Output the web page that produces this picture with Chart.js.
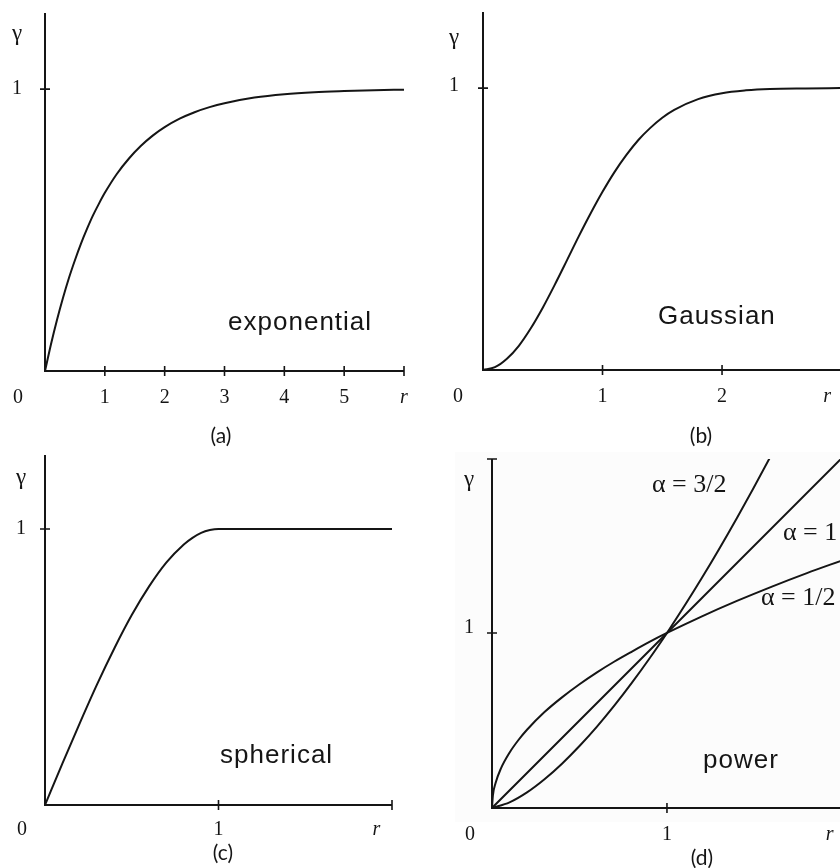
<!DOCTYPE html>
<html>
<head>
<meta charset="utf-8">
<title>Variogram models</title>
<script src="https://cdn.jsdelivr.net/npm/chart.js@4.4.0/dist/chart.umd.min.js"></script>
<style>
    html, body { margin: 0; padding: 0; background: #fff; }
    #sheet { position: relative; width: 840px; height: 868px; overflow: hidden; }
    #sheet canvas { position: absolute; }
</style>
</head>
<body>
<div id="sheet">
    <canvas id="expChart" width="420" height="450" style="left:0;top:0"></canvas>
    <canvas id="gaussChart" width="420" height="450" style="left:420px;top:0"></canvas>
    <canvas id="sphChart" width="420" height="438" style="left:0;top:430px"></canvas>
    <canvas id="powChart" width="420" height="438" style="left:420px;top:430px"></canvas>
</div>
<script>
// (a) exponential model
const expR     = [0, 0.1, 0.2, 0.3, 0.4, 0.5, 0.6, 0.7, 0.8, 0.9, 1, 1.2, 1.4, 1.6, 1.8, 2, 2.25, 2.5, 2.75, 3, 3.5, 4, 4.5, 5, 5.5, 6];
const expGamma = [0, 0.095, 0.181, 0.259, 0.33, 0.393, 0.451, 0.503, 0.551, 0.593, 0.632, 0.699, 0.753, 0.798, 0.835, 0.865, 0.895, 0.918, 0.936, 0.95, 0.97, 0.982, 0.989, 0.993, 0.996, 0.998];
const expTicks = [1, 2, 3, 4, 5, 6];
const expTickLabels = [1, 2, 3, 4, 5];

// (b) Gaussian model
const gaussR     = [0, 0.1, 0.2, 0.3, 0.4, 0.5, 0.6, 0.7, 0.8, 0.9, 1, 1.1, 1.2, 1.3, 1.4, 1.5, 1.6, 1.8, 2, 2.2, 2.4, 2.7, 3];
const gaussGamma = [0, 0.01, 0.04, 0.086, 0.148, 0.221, 0.302, 0.387, 0.473, 0.555, 0.632, 0.702, 0.763, 0.816, 0.859, 0.895, 0.923, 0.961, 0.982, 0.992, 0.997, 0.999, 1];
const gaussTicks = [1, 2];

// (c) spherical model
const sphR     = [0, 0.1, 0.2, 0.3, 0.4, 0.5, 0.6, 0.7, 0.8, 0.85, 0.9, 0.95, 1, 1.5, 2];
const sphGamma = [0, 0.15, 0.296, 0.437, 0.568, 0.688, 0.792, 0.879, 0.944, 0.968, 0.986, 0.996, 1, 1, 1];
const sphTicks = [1, 2];
const sphTickLabels = [1];

// (d) power model, three exponents
const powHalfR     = [0, 0.005, 0.02, 0.05, 0.1, 0.15, 0.2, 0.3, 0.4, 0.5, 0.6, 0.7, 0.8, 0.9, 1, 1.2, 1.4, 1.6, 1.8, 2];
const powHalfGamma = [0, 0.071, 0.141, 0.224, 0.316, 0.387, 0.447, 0.548, 0.632, 0.707, 0.775, 0.837, 0.894, 0.949, 1, 1.095, 1.183, 1.265, 1.342, 1.414];
const powOneR      = [0, 1, 2];
const powOneGamma  = [0, 1, 2];
const powThreeHalfR     = [0, 0.1, 0.2, 0.3, 0.4, 0.5, 0.6, 0.7, 0.8, 0.9, 1, 1.2, 1.4, 1.6, 1.8, 2];
const powThreeHalfGamma = [0, 0.032, 0.089, 0.164, 0.253, 0.354, 0.465, 0.586, 0.716, 0.854, 1, 1.315, 1.657, 2.024, 2.415, 2.828];
const powTicks = [1];

const ink = '#151515';
const serif = '"Liberation Serif", "Times New Roman", serif';
const sans = '"Liberation Sans", Arial, sans-serif';
const captionFont = '21px Lato, "Open Sans", sans-serif';

function drawText(ctx, text, px, py, font, align, baseline, spacing) {
    ctx.save();
    ctx.font = font;
    ctx.fillStyle = ink;
    ctx.textAlign = align || 'center';
    ctx.textBaseline = baseline || 'middle';
    if (spacing) ctx.letterSpacing = spacing;
    ctx.fillText(text, px, py);
    ctx.restore();
}

// Draws the hand-made looking axes: two lines, crossing tick marks,
// the origin "0", the "1" on the vertical axis, γ and r, plus notes.
const sketchAxes = {
    id: 'sketchAxes',
    beforeDraw(chart, args, opts) {
        if (!opts.tint) return;
        const { ctx } = chart;
        ctx.save();
        ctx.fillStyle = opts.tint.color;
        ctx.fillRect(opts.tint.x, opts.tint.y, opts.tint.w, opts.tint.h);
        ctx.restore();
    },
    beforeDatasetsDraw(chart, args, opts) {
        const { ctx, chartArea: a, scales: { x, y } } = chart;
        ctx.save();
        ctx.strokeStyle = ink;
        ctx.lineCap = 'butt';
        ctx.lineWidth = 2;
        ctx.beginPath();
        ctx.moveTo(a.left, a.top);
        ctx.lineTo(a.left, a.bottom);
        ctx.lineTo(a.right, a.bottom);
        ctx.stroke();

        ctx.lineWidth = 1.6;
        ctx.beginPath();
        (opts.xTicks || []).forEach(v => {
            const px = x.getPixelForValue(v);
            ctx.moveTo(px, a.bottom - 5);
            ctx.lineTo(px, a.bottom + 5);
        });
        (opts.yTicks || []).forEach(v => {
            const py = y.getPixelForValue(v);
            ctx.moveTo(a.left - 5, py);
            ctx.lineTo(a.left + 5, py);
        });
        ctx.stroke();
        ctx.restore();
    },
    afterDatasetsDraw(chart, args, opts) {
        const { ctx, chartArea: a, scales: { x, y } } = chart;
        const tickFont = '20px ' + serif;
        const labelY = a.bottom + opts.labelGap;

        drawText(ctx, '0', a.left - opts.originGap, labelY, tickFont);
        (opts.xTickLabels || []).forEach(v => {
            drawText(ctx, String(v), x.getPixelForValue(v), labelY, tickFont);
        });
        drawText(ctx, 'r', x.getPixelForValue(opts.rAt), labelY, 'italic 20px ' + serif);

        drawText(ctx, '1', a.left - opts.yLabelGap, y.getPixelForValue(opts.oneAt), tickFont);
        drawText(ctx, 'γ', a.left - opts.yLabelGap, y.getPixelForValue(opts.gammaAt), '23px ' + serif);

        (opts.notes || []).forEach(n => {
            drawText(ctx, n.text, x.getPixelForValue(n.x), y.getPixelForValue(n.y),
                n.font, 'left', n.baseline || 'alphabetic', n.spacing);
        });

        if (opts.caption) {
            drawText(ctx, opts.caption.text, opts.caption.x, opts.caption.y, captionFont);
        }
    }
};

const curve = (xs, ys) => ({
    data: xs.map((r, i) => ({ x: r, y: ys[i] })),
    borderColor: ink,
    borderWidth: 2,
    pointRadius: 0,
    fill: false,
    cubicInterpolationMode: 'monotone'
});

function makePanel(id, datasets, xMax, yMax, padding, axes) {
    return new Chart(document.getElementById(id), {
        type: 'line',
        data: { datasets },
        options: {
            responsive: false,
            animation: false,
            events: [],
            layout: { padding },
            plugins: {
                legend: { display: false },
                tooltip: { enabled: false },
                sketchAxes: axes
            },
            scales: {
                x: { type: 'linear', display: false, min: 0, max: xMax },
                y: { type: 'linear', display: false, min: 0, max: yMax }
            }
        },
        plugins: [sketchAxes]
    });
}

const noteFont = '26px ' + sans;

makePanel('expChart', [curve(expR, expGamma)], 6, 1.27,
    { left: 45, top: 13, right: 16, bottom: 79 },
    {
        xTicks: expTicks, yTicks: [1], xTickLabels: expTickLabels, rAt: 6,
        labelGap: 27, originGap: 27, yLabelGap: 28, oneAt: 1, gammaAt: 1.195,
        notes: [{ text: 'exponential', x: 3.06, y: 0.145, font: noteFont, spacing: '1px' }],
        caption: { text: '(a)', x: 221, y: 436 }
    });

makePanel('gaussChart', [curve(gaussR, gaussGamma)], 2.987, 1.27,
    { left: 63, top: 12, right: 0, bottom: 80 },
    {
        xTicks: gaussTicks, yTicks: [1], xTickLabels: gaussTicks, rAt: 2.88,
        labelGap: 27, originGap: 25, yLabelGap: 29, oneAt: 1.01, gammaAt: 1.177,
        notes: [{ text: 'Gaussian', x: 1.464, y: 0.163, font: noteFont, spacing: '1px' }],
        caption: { text: '(b)', x: 281, y: 436 }
    });

makePanel('sphChart', [curve(sphR, sphGamma)], 2, 1.268,
    { left: 45, top: 25, right: 28, bottom: 63 },
    {
        xTicks: sphTicks, yTicks: [1], xTickLabels: sphTickLabels, rAt: 1.91,
        labelGap: 25, originGap: 23, yLabelGap: 24, oneAt: 1, gammaAt: 1.185,
        notes: [{ text: 'spherical', x: 1.009, y: 0.152, font: noteFont, spacing: '1px' }],
        caption: { text: '(c)', x: 223, y: 423 }
    });

const alphaFont = '26px ' + serif;
makePanel('powChart', [
        curve(powHalfR, powHalfGamma),
        curve(powOneR, powOneGamma),
        curve(powThreeHalfR, powThreeHalfGamma)
    ], 1.989, 1.994,
    { left: 72, top: 29, right: 0, bottom: 60 },
    {
        xTicks: powTicks, yTicks: [1, 1.994], xTickLabels: powTicks, rAt: 1.93,
        labelGap: 27, originGap: 22, yLabelGap: 23, oneAt: 1.03, gammaAt: 1.874,
        notes: [
            { text: 'power', x: 1.206, y: 0.229, font: noteFont, spacing: '1px' },
            { text: 'α = 3/2', x: 0.914, y: 1.846, font: alphaFont, baseline: 'middle' },
            { text: 'α = 1', x: 1.663, y: 1.571, font: alphaFont, baseline: 'middle' },
            { text: 'α = 1/2', x: 1.537, y: 1.2, font: alphaFont, baseline: 'middle' }
        ],
        caption: { text: '(d)', x: 282, y: 428 },
        tint: { color: 'rgba(0, 0, 0, 0.012)', x: 35, y: 22, w: 385, h: 370 }
    });
</script>
</body>
</html>
